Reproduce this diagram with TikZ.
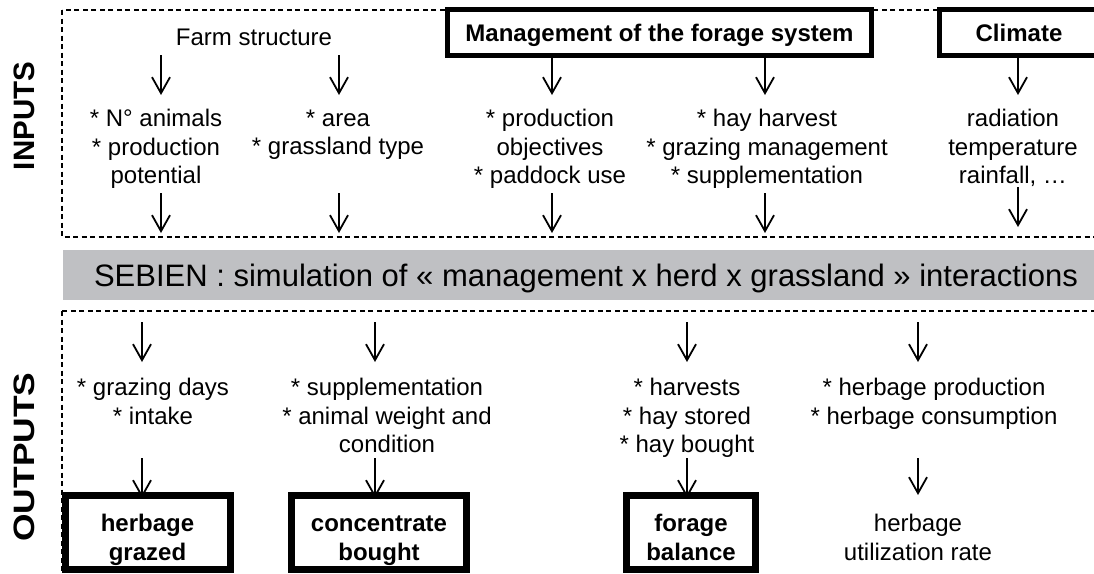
\documentclass[tikz,border=0pt]{standalone}
\usepackage{graphicx}
\usepackage{fontspec}
\setmainfont{Liberation Sans}
\usetikzlibrary{arrows.meta}
\definecolor{barfill}{RGB}{191,192,195}
\newcommand{\topstrut}{\rule{0pt}{32.5pt}}
\newcommand{\botstrut}{\rule[-5pt]{0pt}{5pt}}

\begin{document}
\begin{tikzpicture}[x=1pt, y=-1pt,
  arr/.style={-{Straight Barb[length=16pt,width=18pt]}, line width=1.8pt},
  txt/.style={align=center, anchor=north, inner sep=0pt, font=\fontsize{24}{28.5}\selectfont},
  inbox/.style={draw, fill=white, line width=5pt, inner sep=0pt, text depth=0pt, minimum height=46pt, font=\bfseries\fontsize{24}{29}\selectfont},
  outbox/.style={draw, fill=white, line width=7pt, align=center, inner sep=0pt, minimum height=74pt, font=\bfseries\fontsize{24}{29}\selectfont},
  frame/.style={dash pattern=on 5pt off 3.5pt, line width=1.4pt},
  side/.style={rotate=90, inner sep=0pt, font=\bfseries\fontsize{29.5}{30}\selectfont}]

  \useasboundingbox (0,0) rectangle (1094,573);
  \clip (0,0) rectangle (1094,573);

  % Frames
  \draw[frame] (62,10) rectangle (1110,237);
  \draw[frame] (62,311) rectangle (1110,600);

  % Rows and columns of the arrows
  \coordinate (ia) at (0,55);  \coordinate (ib) at (0,95);
  \coordinate (ic) at (0,193); \coordinate (id) at (0,233);
  \coordinate (ie) at (0,187); \coordinate (if) at (0,227);
  \coordinate (oa) at (0,322); \coordinate (ob) at (0,362);
  \coordinate (oc) at (0,458); \coordinate (od) at (0,495);
  \foreach \k/\x in {k1/161,k2/339,k3/552,k4/765,k5/1018,o1/142,o2/375,o3/687,o4/918}
    \coordinate (\k) at (\x,0);

  % Inputs
  \node[side] (inputs) at (24,116) {INPUTS};
  \node[txt, anchor=center] (farm) at (254,37) {Farm structure};
  \node[inbox, minimum width=424pt] (mgmt) at (659.5,32.5) {Management of the forage system};
  \node[inbox, minimum width=160pt] (climate) at (1019,32.5) {Climate};

  \node[txt] (animals) at (156,109.4) {* N° animals\\* production\\potential};
  \node[txt] (area) at (338,109.4) {* area\\* grassland type};
  \node[txt] (objectives) at (550,109.4) {* production\\objectives\\* paddock use};
  \node[txt] (practices) at (767,109.4) {* hay harvest\\* grazing management\\* supplementation};
  \node[txt] (weather) at (1013,109.4) {radiation\\temperature\\rainfall, …};

  % Model
  \node[fill=barfill, minimum width=1046pt, minimum height=50pt, inner sep=0pt, text depth=0pt,
    font=\fontsize{31}{31}\selectfont] (sebien) at (586,275)
    {SEBIEN : simulation of « management x herd x grassland » interactions};

  % Outputs
  \node[side] (outputs) at (24,457) {\scalebox{1.2}[1]{OUTPUTS}};
  \node[txt] (days) at (153,378.4) {* grazing days\\* intake};
  \node[txt] (supply) at (387,378.4) {* supplementation\\* animal weight and\\condition};
  \node[txt] (hay) at (687,378.4) {* harvests\\* hay stored\\* hay bought};
  \node[txt] (herbage) at (934,378.4) {* herbage production\\* herbage consumption};

  \node[outbox, minimum width=165pt] (grazed) at (147.5,532.5) {\topstrut herbage\\grazed\botstrut};
  \node[outbox, minimum width=175pt] (bought) at (379,532.5) {\topstrut concentrate\\bought\botstrut};
  \node[outbox, minimum width=129pt] (balance) at (691,532.5) {\topstrut forage\\balance\botstrut};
  \node[txt, font=\fontsize{24}{29}\selectfont] (rate) at (918,513.4) {herbage\\utilization rate};

  % Arrows
  \draw[arr] (k1 |- ia) -- (k1 |- ib);
  \draw[arr] (k2 |- ia) -- (k2 |- ib);
  \draw[arr] (mgmt.south -| k3) -- (k3 |- ib);
  \draw[arr] (mgmt.south -| k4) -- (k4 |- ib);
  \draw[arr] (climate.south -| k5) -- (k5 |- ib);
  \foreach \k in {k1,k2,k3,k4}
    \draw[arr] (\k |- ic) -- (\k |- id);
  \draw[arr] (k5 |- ie) -- (k5 |- if);

  \foreach \k in {o1,o2,o3,o4}
    \draw[arr] (\k |- oa) -- (\k |- ob);
  \draw[arr, shorten >=-6pt] (o1 |- oc) -- (grazed.north -| o1);
  \draw[arr, shorten >=-6pt] (o2 |- oc) -- (bought.north -| o2);
  \draw[arr, shorten >=-6pt] (o3 |- oc) -- (balance.north -| o3);
  \draw[arr] (o4 |- oc) -- (o4 |- od);
\end{tikzpicture}
\end{document}
